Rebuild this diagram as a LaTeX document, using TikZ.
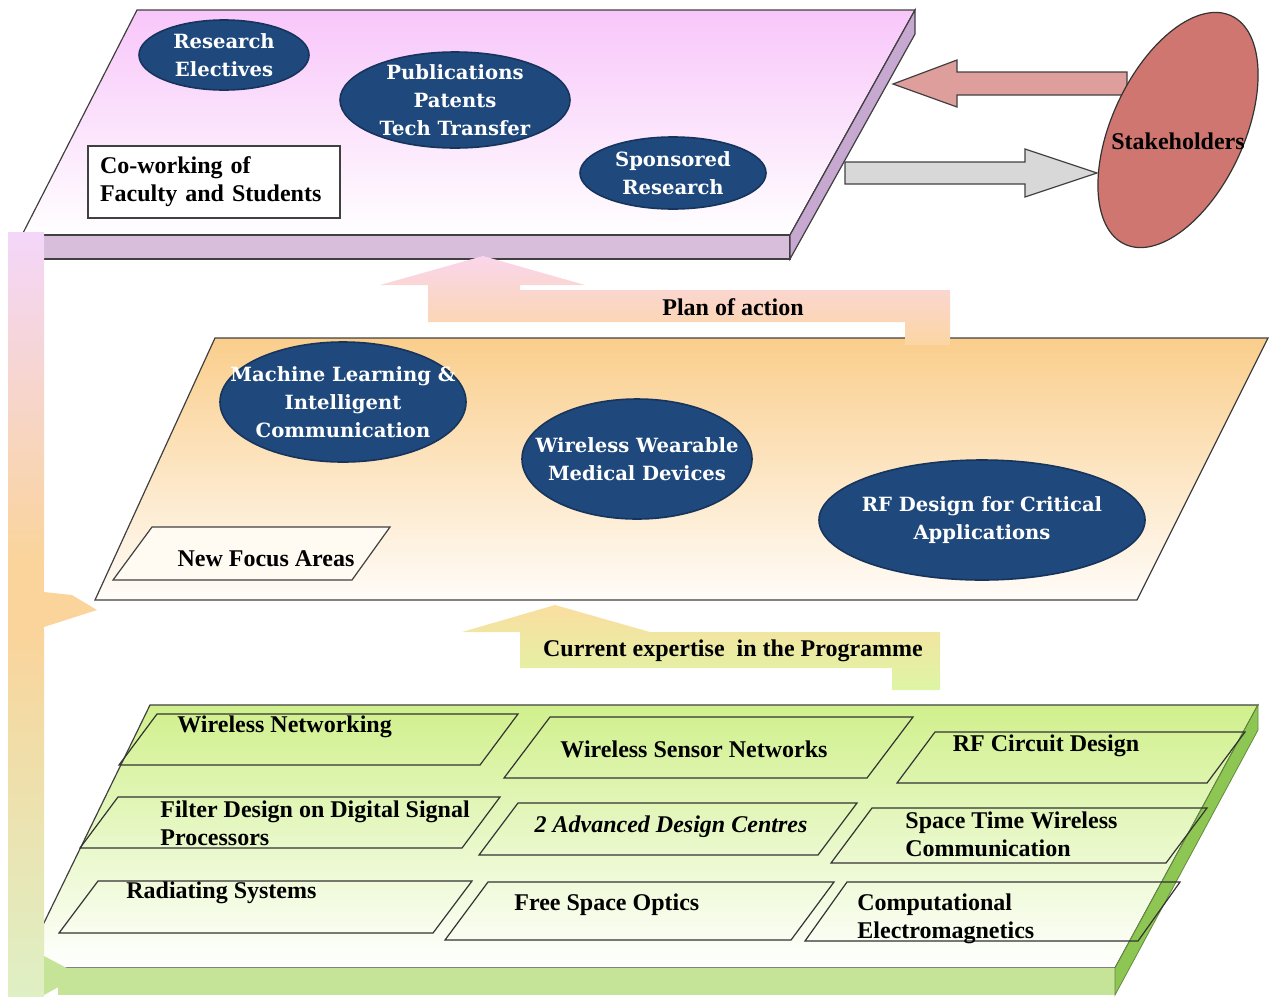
\documentclass[tikz,border=0pt]{standalone}
\usepackage{fontspec}
\setmainfont{Liberation Serif}
\newfontfamily\ovalfont{DejaVu Serif}
\usetikzlibrary{shapes.geometric}

\definecolor{navy}{RGB}{31,73,125}
\definecolor{navyline}{RGB}{22,52,92}
\definecolor{pinktop}{RGB}{248,198,250}
\definecolor{pinkfront}{RGB}{216,190,218}
\definecolor{pinkside}{RGB}{198,168,208}
\definecolor{orangetop}{RGB}{250,206,140}
\definecolor{orangemid}{RGB}{252,232,200}
\definecolor{orangebot}{RGB}{255,252,248}
\definecolor{greentop}{RGB}{208,240,140}
\definecolor{greenfront}{RGB}{198,228,152}
\definecolor{greenside}{RGB}{142,198,84}
\definecolor{barpink}{RGB}{244,214,250}
\definecolor{barorange}{RGB}{250,212,155}
\definecolor{bargreen}{RGB}{222,240,196}
\definecolor{planpink}{RGB}{250,214,236}
\definecolor{planorange}{RGB}{251,214,162}
\definecolor{curorange}{RGB}{250,222,160}
\definecolor{curgreen}{RGB}{222,245,165}
\definecolor{stakefill}{RGB}{208,118,112}
\definecolor{backarrow}{RGB}{222,158,155}
\definecolor{fwdarrow}{RGB}{216,216,216}
\definecolor{focusfill}{RGB}{255,251,243}

\tikzset{
  oval/.style={ellipse, fill=navy, draw=navyline, line width=0.8pt, inner sep=0pt},
  ovaltext/.style={font=\ovalfont\bfseries\fontsize{9.8}{14}\selectfont, text=white, align=center, inner sep=0pt},
  lbl/.style={font=\bfseries\fontsize{12}{14}\selectfont, inner sep=0pt, align=left},
  rim/.style={draw=black!75, line width=0.6pt},
  itembox/.style={draw=black!80, line width=0.6pt},
}

\begin{document}
\begin{tikzpicture}[x=0.5pt,y=-0.5pt]
    \useasboundingbox (0,0) rectangle (1273,996);

    % top plate
    \shadedraw[rim, top color=pinktop, bottom color=white] (137,10) -- (915,10) -- (790,235) -- (22,235) -- cycle;
    \filldraw[rim, fill=pinkfront] (22,235) rectangle (790,259);
    \filldraw[rim, fill=pinkside] (790,235) -- (915,10) -- (915,34) -- (790,259) -- cycle;

    % middle plate
    \shadedraw[rim, top color=orangetop, middle color=orangemid, bottom color=orangebot] (215,338) -- (1268,338) -- (1137,600) -- (95,600) -- cycle;

    % bottom plate
    \shadedraw[rim, top color=greentop, bottom color=white] (150,705) -- (1258,705) -- (1115,968) -- (22,968) -- cycle;
    \fill[greenfront] (58,968) rectangle (1115,995);
    \filldraw[draw=greenside!70!black, fill=greenside] (1115,968) -- (1258,705) -- (1258,730) -- (1115,995) -- cycle;

    % left bar
    \shade[top color=barpink, bottom color=barorange] (8,232) rectangle (44,560);
    \fill[barorange] (8,560) rectangle (44,630);
    \shade[top color=barorange, bottom color=bargreen] (8,630) rectangle (44,996);
    \fill[barorange] (44,592) -- (72,595) -- (97,610) -- (44,627) -- cycle;
    \fill[greenfront] (44,956) -- (80,975) -- (44,995) -- cycle;

    % plan of action
    \shade[top color=planpink, middle color=planorange, bottom color=planorange] (905,345) -- (905,322) -- (428,322) -- (428,285) -- (380,285) -- (483,256) -- (585,285) -- (520,285) -- (520,290) -- (950,290) -- (950,345) -- cycle;
    \node[lbl] (plan) at (733,307) {Plan of action};

    % current expertise
    \shade[top color=curorange, bottom color=curgreen] (892,690) -- (892,668) -- (520,668) -- (520,632) -- (462,632) -- (555,605) -- (650,632) -- (940,632) -- (940,690) -- cycle;
    \node[lbl] (current) at (733,651) {Current expertise\ \ in the Programme};

    % top plate contents
    \node[oval, minimum width=85pt, minimum height=35pt] (re) at (224,55) {};
    \node[ovaltext] (retext) at (re) {Research\\Electives};
    \node[oval, minimum width=115pt, minimum height=48pt] (pub) at (455,100) {};
    \node[ovaltext] (pubtext) at (pub) {Publications\\Patents\\Tech Transfer};
    \node[oval, minimum width=93pt, minimum height=36pt] (spon) at (673,173) {};
    \node[ovaltext] (spontext) at (spon) {Sponsored\\Research};
    \node[rim, fill=white, lbl, minimum width=126pt, minimum height=36pt, text width=114pt] (cowork) at (214,182) {Co-working of\\Faculty and Students};

    % stakeholders
    \coordinate (backtip) at (893,84);
    \filldraw[rim, fill=backarrow] (1127,72) -- (957,72) -- (957,60) -- (backtip) -- (957,107) -- (957,95) -- (1127,95) -- cycle;
    \coordinate (fwdtip) at (1097,173);
    \filldraw[rim, fill=fwdarrow] (845,162) -- (1025,162) -- (1025,149) -- (fwdtip) -- (1025,197) -- (1025,184) -- (845,184) -- cycle;
    \node[ellipse, fill=stakefill, draw=black!80, line width=0.6pt, rotate=-25, minimum width=66pt, minimum height=126pt] (stake) at (1178,130) {};
    \node[lbl] (staketext) at (1178,141) {Stakeholders};

    % middle plate contents
    \node[oval, minimum width=123pt, minimum height=60pt] (ml) at (343,402) {};
    \node[ovaltext] (mltext) at (ml) {Machine Learning \&\\Intelligent\\Communication};
    \node[oval, minimum width=115pt, minimum height=60pt] (wwm) at (637,459) {};
    \node[ovaltext] (wwmtext) at (wwm) {Wireless Wearable\\Medical Devices};
    \node[oval, minimum width=163pt, minimum height=60pt] (rfd) at (982,520) {};
    \node[ovaltext] (rfdtext) at (rfd) {RF Design for Critical\\Applications};
    \filldraw[rim, fill=focusfill] (152,527) -- (390,527) -- (352,580) -- (113,580) -- cycle;
    \node[lbl] (focus) at (266,559) {New Focus Areas};

    % bottom plate contents
    \draw[itembox] (157,714) -- (518,714) -- (480,765) -- (119,765) -- cycle;
    \node[lbl, anchor=west] (wn) at (177,727) {Wireless Networking};
    \draw[itembox] (550,717) -- (913,717) -- (867,778) -- (504,778) -- cycle;
    \node[lbl] (wsn) at (694,749) {Wireless Sensor Networks};
    \draw[itembox] (935,732) -- (1245,732) -- (1207,783) -- (897,783) -- cycle;
    \node[lbl] (rfc) at (1046,746) {RF Circuit Design};

    \draw[itembox] (118,797) -- (500,797) -- (462,848) -- (80,848) -- cycle;
    \node[lbl, anchor=west] (fd) at (160,823) {Filter Design on Digital Signal\\Processors};
    \draw[itembox] (518,803) -- (857,803) -- (818,855) -- (479,855) -- cycle;
    \node[lbl, font=\bfseries\itshape\fontsize{12}{14}\selectfont] (adc) at (671,827) {2 Advanced Design Centres};
    \draw[itembox] (872,808) -- (1207,808) -- (1166,863) -- (831,863) -- cycle;
    \node[lbl, anchor=west] (stw) at (905,834) {Space Time Wireless\\Communication};

    \draw[itembox] (98,881) -- (472,881) -- (433,933) -- (59,933) -- cycle;
    \node[lbl, anchor=west] (rs) at (126,893) {Radiating Systems};
    \draw[itembox] (488,882) -- (834,882) -- (791,940) -- (445,940) -- cycle;
    \node[lbl, anchor=west] (fso) at (514,905) {Free Space Optics};
    \draw[itembox] (847,882) -- (1180,882) -- (1138,941) -- (805,941) -- cycle;
    \node[lbl, anchor=west] (cem) at (857,919) {Computational\\Electromagnetics};
\end{tikzpicture}
\end{document}
